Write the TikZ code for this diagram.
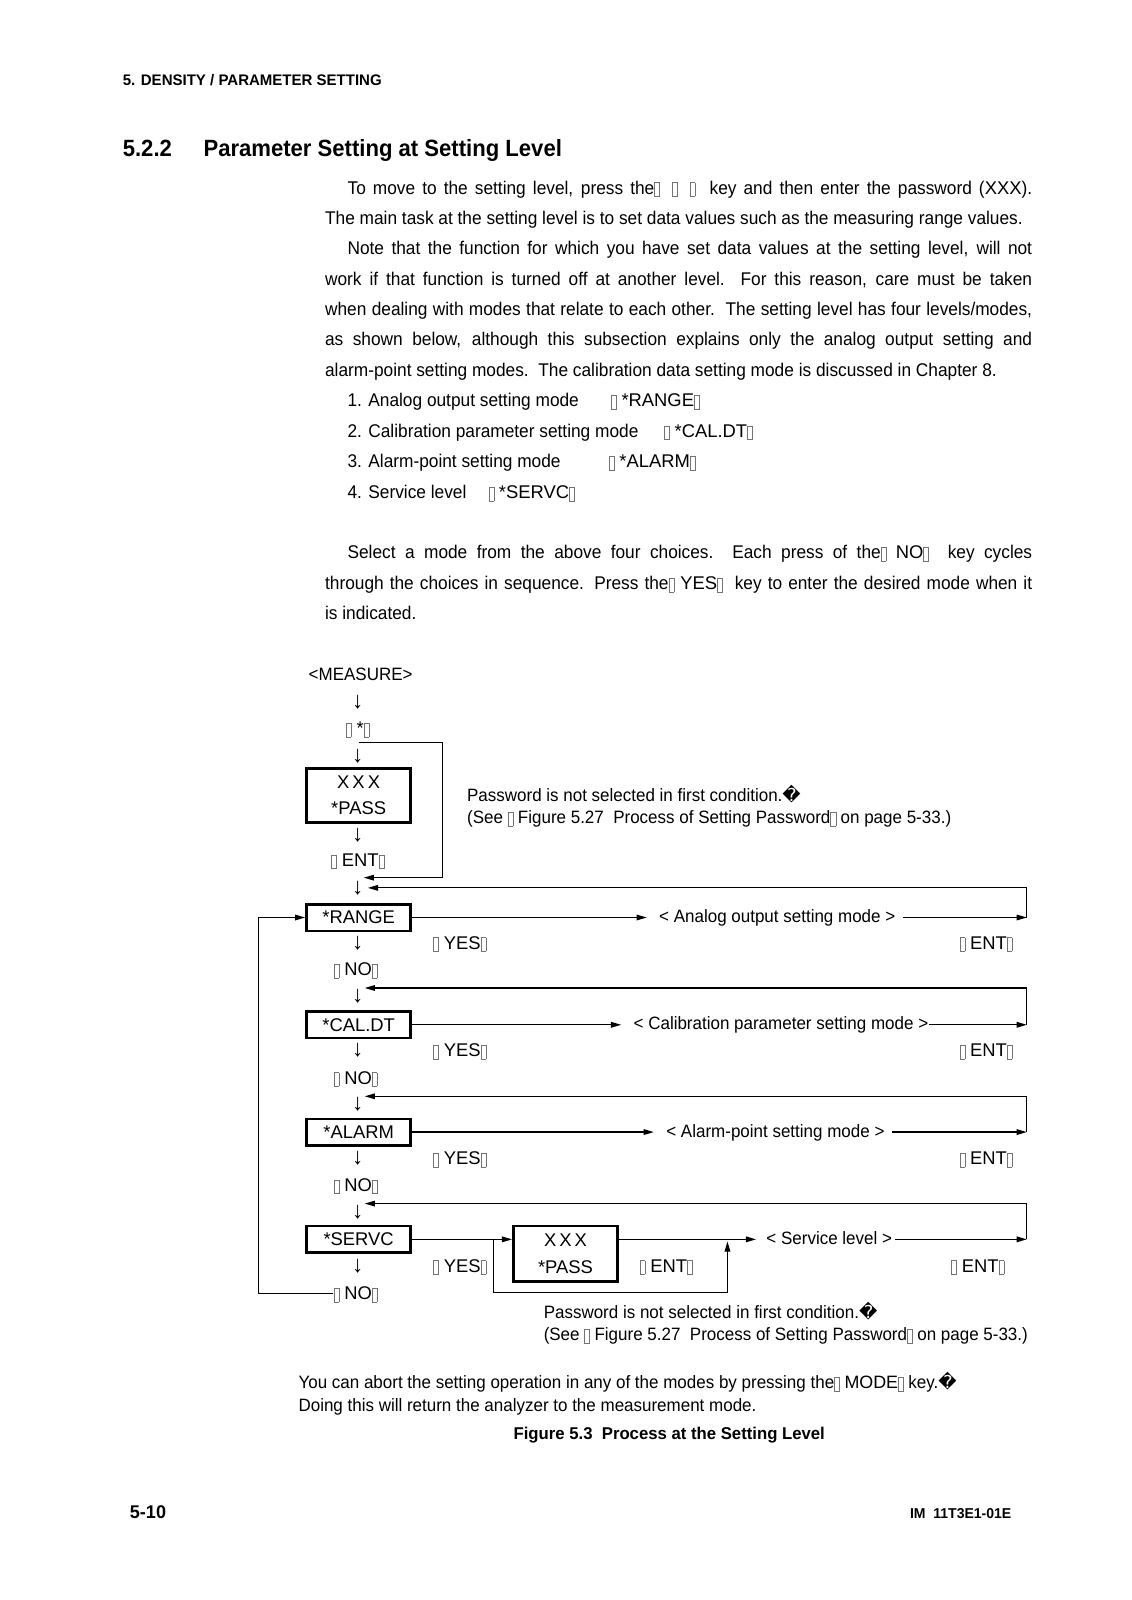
\documentclass[tikz,border=0pt]{standalone}
\usepackage{fontspec}
\usetikzlibrary{arrows.meta,calc}
\setmainfont{Liberation Sans}
\newfontfamily\bodyf[FakeStretch=0.94]{Liberation Sans}
\newfontfamily\dtf[FakeStretch=0.95]{Liberation Sans}
\newfontfamily\boldA[FakeStretch=0.94]{Liberation Sans}
\newfontfamily\boldB[FakeStretch=0.98]{Liberation Sans}
\newfontfamily\keyf{Liberation Sans}
\newfontfamily\dvf{DejaVu Sans}
\newcommand\gbox{\raisebox{-2pt}{\color{black!55}\fboxrule=0.45pt\fboxsep=0pt\fbox{\rule{0pt}{13pt}\hspace{4.5pt}}}}
\newcommand\repl{{\dvf\symbol{"FFFD}}}
\newcommand\kw[1]{{\keyf #1}}
\newcommand\BT{\fontsize{18}{22}\selectfont\bodyf}
\newcommand\DT{\fontsize{17.5}{22}\selectfont\dtf}
\newcommand\KF{\fontsize{18}{26}\selectfont\keyf}
\newcommand\AF{\fontsize{23}{23}\selectfont\dtf}
\newcommand\HF{\fontsize{15}{17}\selectfont\boldB\bfseries}
\newcommand\TF{\fontsize{23}{26}\selectfont\boldA\bfseries}
\newcommand\CF{\fontsize{16.7}{20}\selectfont\boldB\bfseries}
\tikzset{
  txt/.style={inner sep=0pt, anchor=base west, font=\BT},
  lab/.style={inner sep=0pt, anchor=base, font=\DT},
  dn/.style={inner sep=0pt, anchor=center, font=\AF},
  keybox/.style={draw, line width=2.5pt, inner sep=0pt, minimum width=102pt, font=\KF, align=center},
  conn/.style={line width=1.2pt},
  arr/.style={conn, -{Triangle[length=10pt,width=5.5pt]}}
}
\begin{document}
\begin{tikzpicture}[x=1pt,y=-1pt]
\useasboundingbox (0,0) rectangle (1107,1566);
\fill[white] (0,0) rectangle (1107,1566);
% header
\node[txt,font=\HF] (hdr) at (120,84) {5. DENSITY / PARAMETER SETTING};
\node[txt,font=\TF] (secnum) at (120,153) {5.2.2};
\node[txt,font=\TF] (sectitle) at (199,153) {Parameter Setting at Setting Level};
% paragraph
\node[txt] (p1) at (340,190) {\makebox[670pt][s]{To move to the setting level, press the\gbox\hspace{12pt}\gbox\hspace{12pt}\gbox\ \ key and then enter the password (\kw{XXX}).}};
\node[txt] (p2) at (318,219.7) {The main task at the setting level is to set data values such as the measuring range values.};
\node[txt] (p3) at (340,249.4) {\makebox[670pt][s]{Note that the function for which you have set data values at the setting level, will not}};
\node[txt] (p4) at (318,279.1) {\makebox[692pt][s]{work if that function is turned off at another level.\ \ For this reason, care must be taken}};
\node[txt] (p5) at (318,308.8) {\makebox[692pt][s]{when dealing with modes that relate to each other.\ \ The setting level has four levels/modes,}};
\node[txt] (p6) at (318,338.5) {\makebox[692pt][s]{as shown below, although this subsection explains only the analog output setting and}};
\node[txt] (p7) at (318,368.2) {alarm-point setting modes.\ \ The calibration data setting mode is discussed in Chapter 8.};
% list
\node[txt] (l1) at (340,398) {1. Analog output setting mode};
\node[txt] (c1) at (598,398) {\gbox\ \kw{*RANGE}\gbox};
\node[txt] (l2) at (340,428) {2. Calibration parameter setting mode};
\node[txt] (c2) at (650,428) {\gbox\ \kw{*CAL.DT}\gbox};
\node[txt] (l3) at (340,458) {3. Alarm-point setting mode};
\node[txt] (c3) at (596,458) {\gbox\ \kw{*ALARM}\gbox};
\node[txt] (l4) at (340,488) {4. Service level};
\node[txt] (c4) at (478,488) {\gbox\ \kw{*SERVC}\gbox};
% select paragraph
\node[txt] (s1) at (340,547) {\makebox[670pt][s]{Select a mode from the above four choices.\ \ Each press of the\gbox\ \kw{NO}\gbox\ \ key cycles}};
\node[txt] (s2) at (318,577) {\makebox[692pt][s]{through the choices in sequence. Press the\gbox\ \kw{YES}\gbox\ \ key to enter the desired mode when it}};
\node[txt] (s3) at (318,606) {is indicated.};

% ---------- diagram ----------
\node[lab] (measure) at (353,666) {<MEASURE>};
\node[dn] (d1) at (350,687) {↓};
\node[lab,font=\KF] (star) at (350,719) {\gbox\ \kw{*}\gbox};
\node[dn] (d2) at (350,740) {↓};
\node[keybox, minimum height=53pt] (pass1) at (351,778.5) {X\,X\,X\\*PASS};
\node[dn] (d3) at (350,817) {↓};
\node[lab,font=\KF] (ent1) at (350,848) {\gbox\ ENT\gbox};
\node[dn] (d4) at (350,869) {↓};
\coordinate (f1a) at (351,727);
\coordinate (f1b) at (433,727);
\coordinate (f1c) at (433,859);
\coordinate (f1t) at (356,859);
\draw[arr] (f1a) -- (f1b) -- (f1c) -- (f1t);
\node[txt,font=\DT] (note1a) at (457,784) {Password is not selected in first condition.\repl};
\node[txt,font=\DT] (note1b) at (457,806) {(See \gbox\ Figure 5.27\ \ Process of Setting Password\gbox\ on page 5-33.)};

% row 1
\node[keybox, minimum height=26pt] (range) at (351,898) {*RANGE};
\node[txt,font=\DT] (m1) at (645,903) {< Analog output setting mode >};
\coordinate (r1) at (1005,898);
\coordinate (t1) at (1005,869);
\coordinate (t1e) at (360,869);
\draw[arr, shorten >=12pt] (range.east) -- (range.east -| m1.west);
\draw[arr, shorten <=7pt] (range.east -| m1.east) -- (r1);
\draw[arr] (r1) -- (t1) -- (t1e);
\node[dn] (d5) at (350,923) {↓};
\node[lab,font=\KF] (yes1) at (450,929) {\gbox\ YES\gbox};
\node[lab,font=\KF] (entr1) at (965,929) {\gbox\ ENT\gbox};
\node[lab,font=\KF] (no1) at (348,955) {\gbox\ NO\gbox};

% row 2
\coordinate (t2e) at (357,967);
\node[dn] (d6) at (350,975) {↓};
\node[keybox, minimum height=26pt] (cal) at (351,1003) {*CAL.DT};
\node[txt,font=\DT] (m2) at (620,1008) {< Calibration parameter setting mode >};
\coordinate (r2) at (1005,1003);
\coordinate (t2) at (1005,967);
\draw[arr, shorten >=12pt] (cal.east) -- (cal.east -| m2.west);
\draw[arr, shorten <=1pt] (cal.east -| m2.east) -- (r2);
\draw[arr] (r2) -- (t2) -- (t2e);
\node[dn] (d7) at (350,1028) {↓};
\node[lab,font=\KF] (yes2) at (450,1034) {\gbox\ YES\gbox};
\node[lab,font=\KF] (entr2) at (965,1034) {\gbox\ ENT\gbox};
\node[lab,font=\KF] (no2) at (348,1061) {\gbox\ NO\gbox};

% row 3
\coordinate (t3e) at (357,1073);
\node[dn] (d8) at (350,1081) {↓};
\node[keybox, minimum height=26pt] (alarm) at (351,1108) {*ALARM};
\node[txt,font=\DT] (m3) at (652,1113) {< Alarm-point setting mode >};
\coordinate (r3) at (1005,1108);
\coordinate (t3) at (1005,1073);
\draw[arr, shorten >=12pt] (alarm.east) -- (alarm.east -| m3.west);
\draw[arr, shorten <=7pt] (alarm.east -| m3.east) -- (r3);
\draw[arr] (r3) -- (t3) -- (t3e);
\node[dn] (d9) at (350,1134) {↓};
\node[lab,font=\KF] (yes3) at (450,1140) {\gbox\ YES\gbox};
\node[lab,font=\KF] (entr3) at (965,1140) {\gbox\ ENT\gbox};
\node[lab,font=\KF] (no3) at (348,1166) {\gbox\ NO\gbox};

% row 4
\coordinate (t4e) at (357,1178);
\node[dn] (d10) at (350,1186) {↓};
\node[keybox, minimum height=26pt] (servc) at (351,1213) {*SERVC};
\node[keybox, minimum height=54pt] (pass2) at (553.5,1227) {X\,X\,X\\*PASS};
\node[txt,font=\DT] (m4) at (750,1218) {< Service level >};
\coordinate (r4) at (1005,1213);
\coordinate (t4) at (1005,1178);
\draw[arr] (servc.east) -- (servc.east -| pass2.west);
\draw[arr, shorten >=10pt] (servc.east -| pass2.east) -- (servc.east -| m4.west);
\draw[arr, shorten <=3pt] (servc.east -| m4.east) -- (r4);
\draw[arr] (r4) -- (t4) -- (t4e);
\coordinate (b1) at (483,1213);
\coordinate (b2) at (483,1265);
\coordinate (b3) at (712,1265);
\coordinate (b4) at (712,1215);
\draw[arr] (b1) -- (b2) -- (b3) -- (b4);
\node[dn] (d11) at (350,1239) {↓};
\node[lab,font=\KF] (yes4) at (450,1245) {\gbox\ YES\gbox};
\node[lab,font=\KF] (entm4) at (652,1245) {\gbox\ ENT\gbox};
\node[lab,font=\KF] (entr4) at (957,1245) {\gbox\ ENT\gbox};
\node[lab,font=\KF] (no4) at (348,1272) {\gbox\ NO\gbox};
% return loop
\coordinate (lp1) at (253,1266);
\coordinate (lp2) at (253,898);
\draw[arr] (no4.west |- lp1) -- (lp1) -- (lp2) -- (range.west);
\node[txt,font=\DT] (note2a) at (532,1290) {Password is not selected in first condition.\repl};
\node[txt,font=\DT] (note2b) at (532,1312) {(See \gbox\ Figure 5.27\ \ Process of Setting Password\gbox\ on page 5-33.)};

% bottom text
\node[txt,font=\DT] (abort1) at (292,1359) {You can abort the setting operation in any of the modes by pressing the\gbox\ \kw{MODE}\gbox\ key.\repl};
\node[txt,font=\DT] (abort2) at (292,1381) {Doing this will return the analyzer to the measurement mode.};
\node[inner sep=0pt, anchor=base, font=\CF] (caption) at (655,1409) {Figure 5.3\ \ Process at the Setting Level};
% footer
\node[txt,font=\fontsize{18}{20}\selectfont\boldB\bfseries] (pg) at (127,1486) {5-10};
\node[inner sep=0pt, anchor=base east, font=\fontsize{14}{16}\selectfont\boldB\bfseries] (doc) at (990,1486) {IM\ \ 11T3E1-01E};
\end{tikzpicture}
\end{document}
